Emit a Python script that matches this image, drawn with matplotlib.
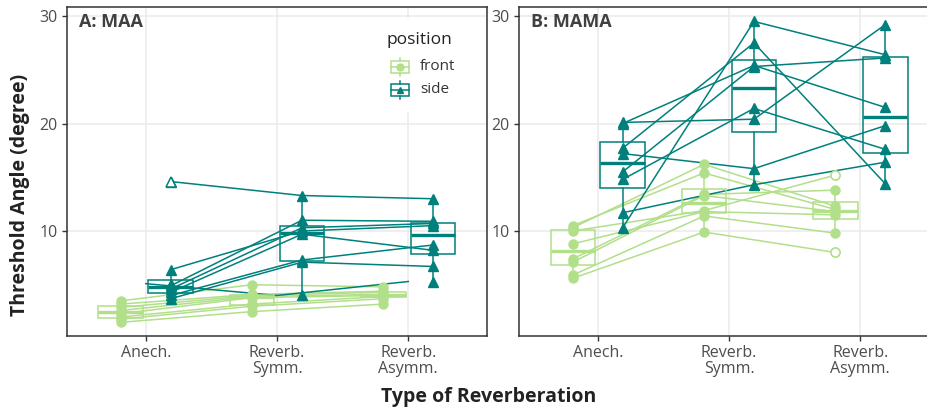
import numpy as np
import matplotlib
matplotlib.use("Agg")
import matplotlib.pyplot as plt
from matplotlib.patches import Rectangle

plt.rcParams['font.family'] = ['Open Sans', 'DejaVu Sans']

conditions = ["Anech.", "Reverb.\nSymm.", "Reverb.\nAsymm."]
positions = ["front", "side"]
panel_titles = ["A: MAA", "B: MAMA"]

# rows: listener, columns: Anech., Reverb. Symm., Reverb. Asymm.
maa_front = [
    [3.5, 5.0, 4.8],
    [3.2, 4.1, 4.4],
    [2.9, 4.0, 4.3],
    [2.6, 3.9, 4.1],
    [2.3, 3.8, 4.0],
    [2.0, 3.2, 3.9],
    [1.8, 3.0, 3.7],
    [1.5, 2.5, 3.2],
]
maa_side = [
    [14.6, 13.3, 13.0],
    [6.4, 10.0, 10.5],
    [4.9, 11.0, 10.9],
    [4.6, 10.3, 10.7],
    [4.3, 9.7, 8.2],
    [4.0, 7.3, 8.7],
    [3.7, 7.1, 6.7],
    [5.1, 4.0, 5.3],
]
mama_front = [
    [10.5, 15.4, 12.0],
    [10.3, 16.2, 12.3],
    [10.0, 11.9, 15.2],
    [8.8, 11.8, 11.5],
    [7.4, 13.4, 13.8],
    [7.1, 13.3, 11.8],
    [5.9, 11.4, 9.8],
    [5.6, 9.9, 8.0],
]
mama_side = [
    [10.3, 29.5, 26.4],
    [17.7, 27.5, 14.4],
    [20.0, 25.4, 21.5],
    [15.5, 25.3, 26.1],
    [14.8, 21.4, 17.6],
    [20.1, 20.4, 29.2],
    [17.2, 15.8, 19.8],
    [11.7, 14.3, 16.4],
]
# the line of this MAA/side listener sits at the undodged positions
maa_side_undodged = 7

colors = {"front": "#B2DF8A", "side": "#00807C"}
markers = {"front": "o", "side": "^"}
dodge = {"front": -0.19, "side": 0.19}
box_w = 0.34


def draw_box(ax, x, vals, color, marker):
    vals = np.asarray(vals)
    q1, med, q3 = np.percentile(vals, [25, 50, 75])
    iqr = q3 - q1
    lo = vals[vals >= q1 - 1.5 * iqr].min()
    hi = vals[vals <= q3 + 1.5 * iqr].max()
    ax.add_patch(Rectangle((x - box_w / 2, q1), box_w, q3 - q1, fill=False,
                           ec=color, lw=1.1, zorder=4))
    ax.plot([x - box_w / 2, x + box_w / 2], [med, med], color=color, lw=2.4,
            solid_capstyle='butt', zorder=4)
    ax.plot([x, x], [q3, hi], color=color, lw=1.1, zorder=4)
    ax.plot([x, x], [lo, q1], color=color, lw=1.1, zorder=4)
    out = vals[(vals < lo) | (vals > hi)]
    ax.plot([x] * len(out), out, marker, mfc='white', mec=color, ms=6.5,
            mew=1.1, ls='none', zorder=6)


def draw_panel(ax, data, title, undodged=None):
    xs = np.arange(1, len(conditions) + 1)
    for pos in positions:
        arr = np.asarray(data[pos])
        c = colors[pos]
        for i, row in enumerate(arr):
            lx = xs if (pos == "side" and i == undodged) else xs + dodge[pos]
            ax.plot(lx, row, color=c, lw=1.1, zorder=2)
            ax.plot(xs + dodge[pos], row, markers[pos], color=c, ms=6.5,
                    ls='none', zorder=3)
        for j in range(len(conditions)):
            draw_box(ax, xs[j] + dodge[pos], arr[:, j], c, markers[pos])
    ax.set_xlim(0.4, 3.6)
    ax.set_ylim(0.23, 30.84)
    ax.set_xticks(xs)
    ax.set_xticklabels(conditions, linespacing=1.0)
    ax.set_yticks([10, 20, 30])
    ax.grid(color='#EBEBEB', lw=1.1)
    ax.set_axisbelow(True)
    for s in ax.spines.values():
        s.set_color('#333333')
        s.set_linewidth(1.1)
    ax.tick_params(direction='out', length=3.5, width=1, color='#333333',
                   labelcolor='#4D4D4D', labelsize=11.5, pad=3)
    ax.text(0.028, 0.955, title, transform=ax.transAxes, fontsize=13,
            fontweight='bold', color='#404040', ha='left', va='center')


fig = plt.figure(figsize=(9.28, 4.12), dpi=100)
W, H = 928, 412
axA = fig.add_axes([67 / W, 1 - 336 / H, 420 / W, 329 / H])
axB = fig.add_axes([519 / W, 1 - 336 / H, 420 / W, 329 / H])

draw_panel(axA, {"front": maa_front, "side": maa_side}, panel_titles[0],
           undodged=maa_side_undodged)
draw_panel(axB, {"front": mama_front, "side": mama_side}, panel_titles[1])


# legend inside panel A, placed in pixel terms
def px(x, y):
    return (x - 67) / 420, (336 - y) / 329


x0, y0 = px(378, 112)
x1, y1 = px(472, 18)
axA.add_patch(Rectangle((x0, y0), x1 - x0, y1 - y0, transform=axA.transAxes,
                        fc='white', ec='none', zorder=7))
tx, ty = px(387, 40)
axA.text(tx, ty, "position", transform=axA.transAxes, fontsize=12.5,
         color='#222222', ha='left', va='center', zorder=8)
for pos, yc in zip(positions, [67, 90]):
    c = colors[pos]
    bx, by = px(391, yc + 6)
    bx2, by2 = px(409, yc - 6)
    axA.add_patch(Rectangle((bx, by), bx2 - bx, by2 - by, transform=axA.transAxes,
                            fill=False, ec=c, lw=1.1, zorder=8))
    mx, my = px(400, yc)
    _, wt = px(400, yc - 9)
    _, wb = px(400, yc + 9)
    axA.plot([bx, bx2], [my, my], color=c, lw=1.1, transform=axA.transAxes, zorder=8)
    axA.plot([mx, mx], [by2, wt], color=c, lw=1.1, transform=axA.transAxes, zorder=8)
    axA.plot([mx, mx], [wb, by], color=c, lw=1.1, transform=axA.transAxes, zorder=8)
    axA.plot([mx], [my], markers[pos], color=c, ms=5, transform=axA.transAxes, zorder=9)
    lx, ly = px(420, yc)
    axA.text(lx, ly, pos, transform=axA.transAxes, fontsize=11, color='#333333',
             ha='left', va='center', zorder=8)

fig.text(20 / W, 1 - 195 / H, "Threshold Angle (degree)", rotation=90,
         fontsize=14, fontweight='bold', color='#222222', ha='center', va='center')
fig.text(489 / W, 1 - 397 / H, "Type of Reverberation", fontsize=14,
         fontweight='bold', color='#222222', ha='center', va='center')

fig.savefig("out.png", dpi=100)
